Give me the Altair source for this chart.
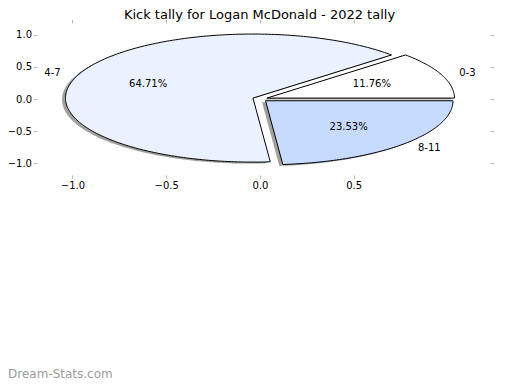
import numpy as np
import pandas as pd
import altair as alt

# ---- data ----
labels = ["0-3", "4-7", "8-11"]
counts = [2, 11, 4]
colors = ["#ffffff", "#ebf2ff", "#c7daff"]
explode = [0.04, 0.04, 0.04]
x_ticks = [-1.0, -0.5, 0.0, 0.5]
y_ticks = [-1.0, -0.5, 0.0, 0.5, 1.0]
title_text = ["Kick tally for Logan McDonald - 2022 tally"]
watermark = ["Dream-Stats.com"]

# ---- build wedge outlines (pie geometry from the values) ----
total = float(sum(counts))
rows, lab_rows, pct_rows = [], [], []
start = 0.0
for lab, c, e in zip(labels, counts, explode):
    span = c / total * 360.0
    t1, t2 = start, start + span
    mid = np.deg2rad((t1 + t2) / 2.0)
    cx, cy = e * np.cos(mid), e * np.sin(mid)
    n = max(3, int(np.ceil(span)) + 1)
    ts = np.deg2rad(np.linspace(t1, t2, n))
    pts = [(cx, cy)] + [(cx + np.cos(t), cy + np.sin(t)) for t in ts] + [(cx, cy)]
    for i, (px, py) in enumerate(pts):
        rows.append({"wedge": lab, "idx": i, "x": px, "y": py})
    lx, ly = cx + 1.1 * np.cos(mid), cy + 1.1 * np.sin(mid)
    lab_rows.append({"wedge": lab, "x": lx, "y": ly, "side": "L" if lx > 0 else "R"})
    pct_rows.append({"wedge": lab, "x": cx + 0.6 * np.cos(mid), "y": cy + 0.6 * np.sin(mid),
                     "pct": f"{c / total * 100:.2f}%"})
    start = t2

poly = pd.DataFrame(rows)
lab_df = pd.DataFrame(lab_rows)
pct_df = pd.DataFrame(pct_rows)

PAD_L, PAD_T = 29, 15
W, H = 453, 152

xs = alt.Scale(domain=[-1.1893, 1.227], nice=False, zero=False)
ys = alt.Scale(domain=[-1.187, 1.187], nice=False, zero=False)

FONT = "DejaVu Sans"
ax_common = dict(domain=False, grid=False, tickColor="#b8b8b8", tickSize=3.5,
                 labelFont=FONT, labelFontSize=10, labelColor="black", title=None)

shadow = alt.Chart(poly).mark_line(
    strokeOpacity=0, fillOpacity=0.5, xOffset=-3.5, yOffset=1.5
).encode(
    x=alt.X("x:Q", scale=xs, axis=alt.Axis(orient="top", values=x_ticks, labels=False, **ax_common)),
    y=alt.Y("y:Q", scale=ys, axis=alt.Axis(orient="right", values=y_ticks, labels=False, **ax_common)),
    detail="wedge:N",
    order="idx:Q",
    fill=alt.value("#444444"),
)

wedges = alt.Chart(poly).mark_line(stroke="black", strokeWidth=1).encode(
    x=alt.X("x:Q", scale=xs, axis=alt.Axis(orient="bottom", values=x_ticks, format=".1f",
                                            labelPadding=2, **ax_common)),
    y=alt.Y("y:Q", scale=ys, axis=alt.Axis(orient="left", values=y_ticks, format=".1f",
                                            labelPadding=2, **ax_common)),
    order="idx:Q",
    fill=alt.Fill("wedge:N", scale=alt.Scale(domain=labels, range=colors), legend=None),
)

lab_left = alt.Chart(lab_df).transform_filter("datum.side == 'L'").mark_text(
    align="left", baseline="middle", font=FONT, fontSize=10, color="black"
).encode(x=alt.X("x:Q", scale=xs, axis=None), y=alt.Y("y:Q", scale=ys, axis=None), text="wedge:N")

lab_right = alt.Chart(lab_df).transform_filter("datum.side == 'R'").mark_text(
    align="right", baseline="middle", font=FONT, fontSize=10, color="black"
).encode(x=alt.X("x:Q", scale=xs, axis=None), y=alt.Y("y:Q", scale=ys, axis=None), text="wedge:N")

pcts = alt.Chart(pct_df).mark_text(
    align="center", baseline="middle", font=FONT, fontSize=10, color="black"
).encode(x=alt.X("x:Q", scale=xs, axis=None), y=alt.Y("y:Q", scale=ys, axis=None), text="pct:N")

title = alt.Chart(pd.DataFrame({"t": title_text})).mark_text(
    align="center", baseline="alphabetic", font=FONT, fontSize=13, color="black"
).encode(x=alt.value(259.5 - 8 - PAD_L), y=alt.value(19 - 8 - PAD_T), text="t:N")

wm = alt.Chart(pd.DataFrame({"t": watermark})).mark_text(
    align="left", baseline="alphabetic", font=FONT, fontSize=12, color="#9c9c9c"
).encode(x=alt.value(-PAD_L), y=alt.value(378 - 8 - PAD_T), text="t:N")

chart = alt.layer(shadow, wedges, lab_left, lab_right, pcts, title, wm).resolve_axis(
    x="independent", y="independent"
).properties(
    width=W,
    height=H,
    autosize=alt.AutoSizeParams(type="none"),
    padding={"left": PAD_L, "top": PAD_T, "right": 504 - PAD_L - W, "bottom": 374 - PAD_T - H},
).configure_view(stroke=None)

chart.save("out.html", embed_options={"renderer": "svg", "actions": False})
